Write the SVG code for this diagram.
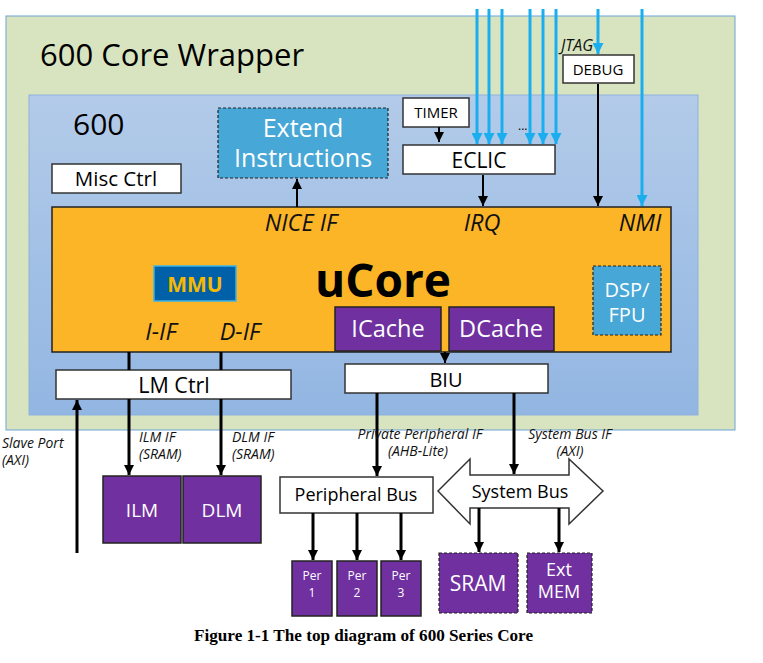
<svg xmlns="http://www.w3.org/2000/svg" width="763" height="663" viewBox="0 0 763 663">
<defs>
<linearGradient id="gBlue" x1="0" y1="0" x2="0" y2="1">
<stop offset="0" stop-color="#b3cbe9"/>
<stop offset="1" stop-color="#92b6e2"/>
</linearGradient>
<marker id="ak" viewBox="0 0 10 10" refX="10" refY="5" markerWidth="10" markerHeight="10" markerUnits="userSpaceOnUse" orient="auto">
<path d="M0,0 L10,5 L0,10 z" fill="#000"/>
</marker>
<marker id="ab" viewBox="0 0 10 10" refX="10" refY="5" markerWidth="11" markerHeight="11" markerUnits="userSpaceOnUse" orient="auto">
<path d="M0,0 L10,5 L0,10 z" fill="#1aaeef"/>
</marker>
</defs>
<style>
text{font-family:"Open Sans","Liberation Sans",sans-serif;}
.wb{fill:#fff;stroke:#333;stroke-width:1.5;}
.pu{fill:#7030a0;stroke:#222;stroke-width:1.5;}
.pud{fill:#7030a0;stroke:#222;stroke-width:1.2;stroke-dasharray:3 2;}
.cy{fill:#47a7d6;stroke:#222;stroke-width:1.2;stroke-dasharray:3 2;}
.t{fill:#000;text-anchor:middle;}
.tw{fill:#fff;text-anchor:middle;}
.it{font-style:italic;fill:#111;}
.sm{font-size:14px;}
.k{stroke:#000;stroke-width:3;fill:none;}
.kt{stroke:#000;stroke-width:2;fill:none;}
.b{stroke:#1aaeef;stroke-width:3;fill:none;}
</style>

<g id="wrapper">
<rect x="6" y="16" width="729" height="414" fill="#d8e4bf" stroke="#6fa3d6" stroke-width="1"/>
<text x="40" y="66" font-size="31">600 Core Wrapper</text>
</g>
<g id="core600">
<rect x="29" y="95" width="669" height="320" fill="url(#gBlue)" stroke="#8fb1de" stroke-width="1"/>
<text x="73" y="135" font-size="30">600</text>
</g>

<g id="extend">
<rect x="218" y="108" width="170" height="70" class="cy"/>
<text x="303" y="137" font-size="25" class="tw">Extend<tspan x="303" dy="30">Instructions</tspan></text>
</g>
<g id="misc">
<rect x="52" y="164" width="129" height="29" class="wb"/>
<text x="116" y="186" font-size="20.5" class="t">Misc Ctrl</text>
</g>
<g id="timer">
<rect x="403" y="98" width="66" height="29" class="wb"/>
<text x="436" y="118" font-size="15" class="t">TIMER</text>
</g>
<g id="eclic">
<rect x="403" y="145" width="152" height="29" class="wb"/>
<text x="479" y="168" font-size="21" class="t">ECLIC</text>
</g>
<g id="debug">
<rect x="563" y="55" width="71" height="28" class="wb"/>
<text x="598" y="75" font-size="15" class="t">DEBUG</text>
</g>

<g id="ucore">
<rect x="52" y="207" width="619" height="145" fill="#fbb526" stroke="#222" stroke-width="1.5"/>
<text x="383" y="297" font-size="46" font-weight="bold" class="t">uCore</text>
<text x="301" y="231" font-size="23.5" class="it" text-anchor="middle">NICE IF</text>
<text x="482" y="231" font-size="23.5" class="it" text-anchor="middle">IRQ</text>
<text x="640" y="231" font-size="23.5" class="it" text-anchor="middle">NMI</text>
<text x="161" y="340" font-size="23.5" class="it" text-anchor="middle">I-IF</text>
<text x="240" y="340" font-size="23.5" class="it" text-anchor="middle">D-IF</text>
</g>
<g id="mmu">
<rect x="154" y="266" width="82" height="35" fill="#0061a8" stroke="#3cb4e6" stroke-width="1.5"/>
<text x="195" y="291.5" font-size="21" font-weight="bold" fill="#f7b900" text-anchor="middle">MMU</text>
</g>
<g id="icache">
<rect x="335" y="307" width="106" height="44" class="pu"/>
<text x="388" y="337" font-size="23.5" class="tw">ICache</text>
</g>
<g id="dcache">
<rect x="449" y="307" width="105" height="44" class="pu"/>
<text x="501" y="337" font-size="23.5" class="tw">DCache</text>
</g>
<g id="dsp">
<rect x="593" y="266" width="68" height="69" class="cy"/>
<text x="627" y="297" font-size="20" class="tw">DSP/<tspan x="627" dy="25">FPU</tspan></text>
</g>

<g id="lmctrl">
<rect x="56" y="370" width="235" height="29" class="wb"/>
<text x="174" y="393" font-size="21.5" class="t">LM Ctrl</text>
</g>
<g id="biu">
<rect x="345" y="364" width="203" height="29" class="wb"/>
<text x="446" y="387" font-size="20" class="t">BIU</text>
</g>

<g id="ilm">
<rect x="103" y="476" width="78" height="67" class="pu"/>
<text x="142" y="517" font-size="19" class="tw">ILM</text>
</g>
<g id="dlm">
<rect x="183" y="476" width="78" height="67" class="pu"/>
<text x="222" y="517" font-size="19" class="tw">DLM</text>
</g>
<g id="pbus">
<rect x="280" y="477" width="153" height="36" class="wb"/>
<text x="356" y="501" font-size="18" class="t">Peripheral Bus</text>
</g>
<g id="sbus">
<path d="M438,491 L470,459 L470,475 L569,475 L569,459 L603,491 L569,524 L569,508 L470,508 L470,524 Z" fill="#fff" stroke="#333" stroke-width="1.5"/>
<text x="520" y="498" font-size="18" class="t">System Bus</text>
</g>
<g id="per1">
<rect x="292" y="561" width="40" height="55" class="pu"/>
<text x="312" y="580" font-size="12" class="tw">Per<tspan x="312" dy="17">1</tspan></text>
</g>
<g id="per2">
<rect x="337" y="561" width="40" height="55" class="pu"/>
<text x="357" y="580" font-size="12" class="tw">Per<tspan x="357" dy="17">2</tspan></text>
</g>
<g id="per3">
<rect x="381" y="561" width="40" height="55" class="pu"/>
<text x="401" y="580" font-size="12" class="tw">Per<tspan x="401" dy="17">3</tspan></text>
</g>
<g id="sram">
<rect x="439" y="553" width="79" height="60" class="pud"/>
<text x="478" y="591" font-size="21" class="tw">SRAM</text>
</g>
<g id="extmem">
<rect x="527" y="553" width="65" height="60" class="pud"/>
<text x="559" y="576" font-size="18" class="tw">Ext<tspan x="559" dy="22">MEM</tspan></text>
</g>

<g id="connectors">
<line x1="297" y1="207" x2="297" y2="179" class="kt" marker-end="url(#ak)"/>
<line x1="439" y1="127" x2="439" y2="142" class="kt" marker-end="url(#ak)"/>
<line x1="483" y1="175" x2="483" y2="206" class="kt" marker-end="url(#ak)"/>
<line x1="598" y1="84" x2="598" y2="206" class="kt" marker-end="url(#ak)"/>
<line x1="477" y1="9" x2="477" y2="144" class="b" marker-end="url(#ab)"/>
<line x1="489" y1="9" x2="489" y2="144" class="b" marker-end="url(#ab)"/>
<line x1="502" y1="9" x2="502" y2="144" class="b" marker-end="url(#ab)"/>
<line x1="530" y1="9" x2="530" y2="144" class="b" marker-end="url(#ab)"/>
<line x1="543" y1="9" x2="543" y2="144" class="b" marker-end="url(#ab)"/>
<line x1="556" y1="9" x2="556" y2="144" class="b" marker-end="url(#ab)"/>
<line x1="598" y1="9" x2="598" y2="54" class="b" marker-end="url(#ab)"/>
<line x1="642" y1="9" x2="642" y2="206" class="b" marker-end="url(#ab)"/>
<line x1="129" y1="352" x2="129" y2="370" class="k"/>
<line x1="221" y1="352" x2="221" y2="370" class="k"/>
<line x1="129" y1="399" x2="129" y2="475" class="k" marker-end="url(#ak)"/>
<line x1="221" y1="399" x2="221" y2="475" class="k" marker-end="url(#ak)"/>
<line x1="77" y1="553" x2="77" y2="400" class="k" marker-end="url(#ak)"/>
<line x1="445" y1="352" x2="445" y2="363" class="kt" marker-end="url(#ak)"/>
<line x1="377" y1="393" x2="377" y2="476" class="k" marker-end="url(#ak)"/>
<line x1="514" y1="393" x2="514" y2="474" class="k" marker-end="url(#ak)"/>
<line x1="313" y1="513" x2="313" y2="560" class="k" marker-end="url(#ak)"/>
<line x1="357" y1="513" x2="357" y2="560" class="k" marker-end="url(#ak)"/>
<line x1="401" y1="513" x2="401" y2="560" class="k" marker-end="url(#ak)"/>
<line x1="479" y1="508" x2="479" y2="552" class="k" marker-end="url(#ak)"/>
<line x1="559" y1="508" x2="559" y2="552" class="k" marker-end="url(#ak)"/>
</g>

<g id="labels">
<text x="518" y="130" font-size="12">...</text>
<text x="593" y="51" font-size="16" class="it" text-anchor="end">JTAG</text>
<text x="139" y="442" class="it sm">ILM IF<tspan x="139" dy="17">(SRAM)</tspan></text>
<text x="232" y="442" class="it sm">DLM IF<tspan x="232" dy="17">(SRAM)</tspan></text>
<text x="2" y="448" class="it sm">Slave Port<tspan x="2" dy="17">(AXI)</tspan></text>
<text x="420" y="439" class="it sm" text-anchor="middle">Private Peripheral IF<tspan x="418" dy="17">(AHB-Lite)</tspan></text>
<text x="570" y="439" class="it sm" text-anchor="middle">System Bus IF<tspan x="570" dy="17">(AXI)</tspan></text>
<text x="194" y="641" font-size="16" font-weight="bold" textLength="339" lengthAdjust="spacingAndGlyphs" style="font-family:'Liberation Serif',serif">Figure 1-1 The top diagram of 600 Series Core</text>
</g>
</svg>
